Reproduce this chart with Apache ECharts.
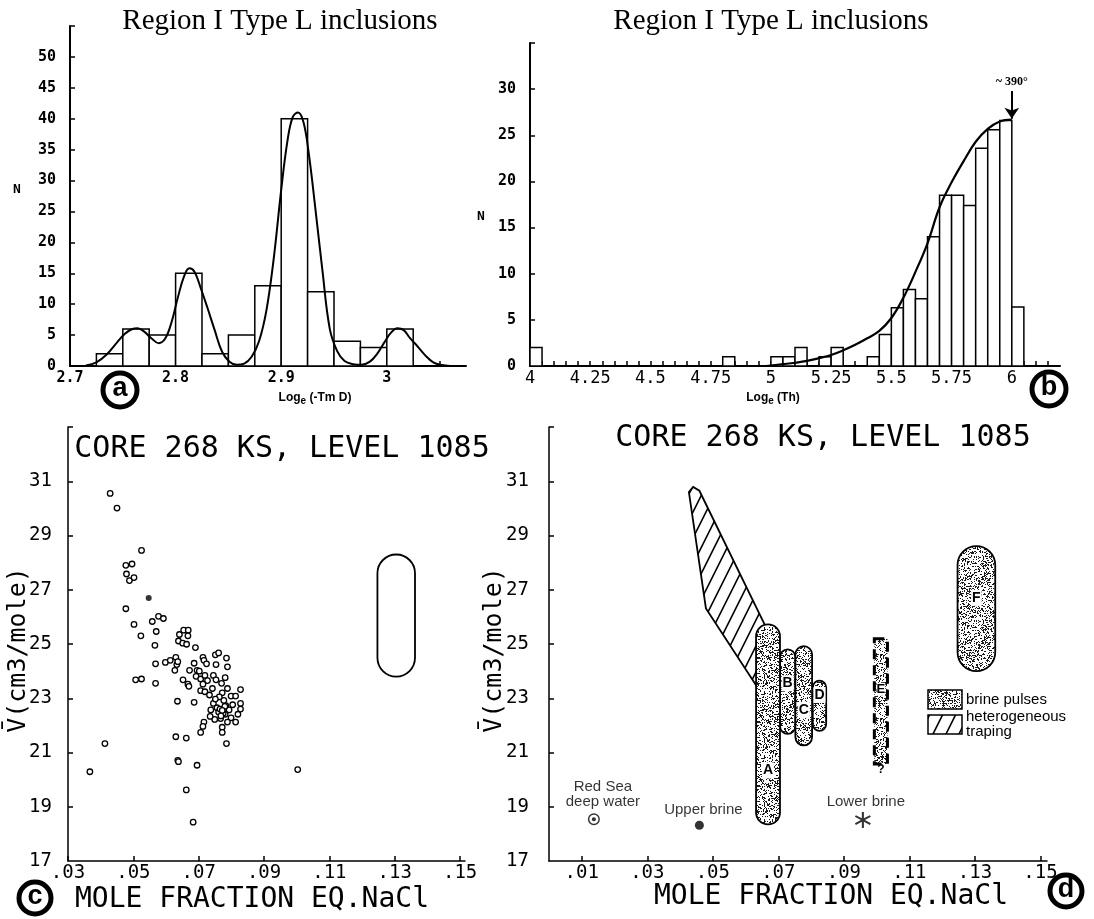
<!DOCTYPE html>
<html>
<head>
<meta charset="utf-8">
<title>Region I Type L inclusions</title>
<script src="https://cdn.jsdelivr.net/npm/echarts@6.0.0/dist/echarts.min.js"></script>
<style>
  html, body { margin: 0; padding: 0; background: #fff; }
  #main { width: 1094px; height: 919px; }
</style>
</head>
<body>
<div id="main"></div>
<script>
// ---------- panel a : Loge(-Tm) histogram ----------
const binEdgesA = [2.725, 2.750, 2.775, 2.800, 2.825, 2.850, 2.875, 2.900, 2.925, 2.950, 2.975, 3.000, 3.025];
const countsA = [2, 6, 5, 15, 2, 5, 13, 40, 12, 4, 3, 6];
const curveAX = [2.715, 2.725, 2.735, 2.745, 2.752, 2.758, 2.764, 2.770, 2.777, 2.784, 2.790, 2.796, 2.802, 2.808, 2.813, 2.818, 2.824, 2.830, 2.837, 2.844, 2.851, 2.858, 2.865, 2.872, 2.879, 2.886, 2.893, 2.900, 2.906, 2.911, 2.916, 2.921, 2.926, 2.932, 2.939, 2.946, 2.953, 2.960, 2.968, 2.976, 2.984, 2.991, 2.998, 3.004, 3.010, 3.016, 3.022, 3.029, 3.036, 3.044, 3.052, 3.060];
const curveAY = [0.1, 0.6, 1.9, 3.9, 5.2, 5.9, 6.1, 5.6, 4.5, 3.7, 4.4, 7.0, 11.0, 14.5, 15.8, 15.2, 12.5, 9.5, 5.8, 2.3, 0.7, 0.2, 0.4, 1.5, 4.0, 9.0, 17.5, 28.5, 36.5, 40.3, 41.0, 39.5, 34.5, 26.0, 15.5, 6.0, 2.4, 0.8, 0.3, 0.2, 0.7, 2.0, 3.9, 5.4, 6.1, 5.8, 4.5, 3.2, 1.8, 0.6, 0.15, 0.0];
const xLabelsA = [2.7, 2.8, 2.9, 3.0];
const xTicksA = [2.8, 2.9, 3.0, 3.05];
const yLabelsA = [0, 5, 10, 15, 20, 25, 30, 35, 40, 45, 50];
const yTicksA = [5, 10, 15, 20, 25, 30, 35, 40, 45, 50, 55];

// ---------- panel b : Loge(Th) histogram ----------
const binWidthB = 0.05;
const binStartB = [4.00, 4.80, 5.00, 5.05, 5.10, 5.20, 5.25, 5.40, 5.45, 5.50, 5.55, 5.60, 5.65, 5.70, 5.75, 5.80, 5.85, 5.90, 5.95, 6.00];
const countsB = [2, 1, 1, 1, 2, 1, 2, 1, 3.4, 6.3, 8.3, 7.3, 14, 18.5, 18.5, 17.4, 23.6, 25.6, 26.6, 6.4];
const curveBX = [4.98, 5.05, 5.10, 5.15, 5.20, 5.25, 5.30, 5.35, 5.40, 5.45, 5.50, 5.55, 5.60, 5.65, 5.70, 5.75, 5.80, 5.85, 5.90, 5.95, 6.00];
const curveBY = [0.0, 0.2, 0.35, 0.55, 0.85, 1.2, 1.7, 2.3, 3.0, 3.8, 5.2, 7.4, 10.2, 13.3, 17.2, 19.9, 22.2, 24.3, 25.7, 26.5, 26.7];
const xLabelsB = [4, 4.25, 4.5, 4.75, 5, 5.25, 5.5, 5.75, 6];
const xTicksB = [4.05, 4.1, 4.15, 4.2, 4.25, 4.3, 4.35, 4.4, 4.45, 4.5, 4.55, 4.6, 4.65, 4.7, 4.75, 4.8, 4.85, 4.9, 4.95, 5, 5.05, 5.1, 5.15, 5.2, 5.25, 5.3, 5.35, 5.4, 5.45, 5.5, 5.55, 5.6, 5.65, 5.7, 5.75, 5.8, 5.85, 5.9, 5.95, 6, 6.05, 6.1, 6.15];
const yLabelsB = [0, 5, 10, 15, 20, 25, 30];
const yTicksB = [5, 10, 15, 20, 25, 30, 35];
const arrowB = { x: 6.0, from: 29.8, to: 26.8, text: '~ 390°' };

// ---------- panel c : V vs mole fraction scatter ----------
const scatterX = [0.0429, 0.0450, 0.0525, 0.0477, 0.0496, 0.0479, 0.0488, 0.0502, 0.0477, 0.0502, 0.0558, 0.0577, 0.0592, 0.0570, 0.0523, 0.0566, 0.0641, 0.0654, 0.0668, 0.0667, 0.0638, 0.0651, 0.0663, 0.0690, 0.0568, 0.0598, 0.0613, 0.0630, 0.0633, 0.0636, 0.0627, 0.0507, 0.0525, 0.0568, 0.0652, 0.0667, 0.0670, 0.0672, 0.0686, 0.0713, 0.0716, 0.0724, 0.0751, 0.0761, 0.0785, 0.0788, 0.0753, 0.0695, 0.0702, 0.0692, 0.0706, 0.0719, 0.0727, 0.0745, 0.0753, 0.0770, 0.0781, 0.0713, 0.0706, 0.0719, 0.0733, 0.0742, 0.0772, 0.0788, 0.0799, 0.0828, 0.0813, 0.0828, 0.0828, 0.0820, 0.0813, 0.0799, 0.0788, 0.0772, 0.0772, 0.0749, 0.0735, 0.0716, 0.0713, 0.0706, 0.0686, 0.0635, 0.0745, 0.0756, 0.0761, 0.0783, 0.0793, 0.0781, 0.0767, 0.0777, 0.0763, 0.0751, 0.0737, 0.0804, 0.0630, 0.0662, 0.0785, 0.0413, 0.0367, 0.0636, 0.0638, 0.0695, 0.1003, 0.0662, 0.0683, 0.0765, 0.0775, 0.0780, 0.0768, 0.0772];
const scatterY = [30.55, 30.01, 28.45, 27.90, 27.95, 27.58, 27.34, 27.45, 26.30, 25.72, 25.83, 26.02, 25.94, 25.46, 25.30, 24.95, 25.35, 25.51, 25.51, 25.30, 25.11, 25.03, 24.99, 24.87, 24.27, 24.32, 24.40, 24.51, 24.24, 24.35, 24.03, 23.68, 23.71, 23.55, 23.68, 23.52, 23.44, 24.03, 24.29, 24.51, 24.40, 24.27, 24.60, 24.67, 24.48, 24.16, 24.24, 24.03, 24.00, 23.81, 23.71, 23.84, 23.65, 23.84, 23.68, 23.55, 23.76, 23.52, 23.28, 23.24, 23.12, 23.36, 23.20, 23.36, 23.08, 23.32, 23.08, 22.81, 22.60, 22.41, 22.12, 22.28, 22.12, 21.93, 21.74, 22.22, 22.33, 22.12, 21.96, 21.74, 22.85, 22.89, 22.81, 22.65, 22.49, 22.73, 22.57, 22.41, 22.25, 22.92, 23.05, 22.97, 22.57, 22.76, 21.58, 21.53, 21.33, 21.33, 20.29, 20.71, 20.66, 20.53, 20.37, 19.62, 18.43, 22.60, 22.45, 22.70, 22.35, 22.55];
const filledPointC = [0.0547, 26.70];
const capsuleCX = [0.1247, 0.1362];
const capsuleCY = [23.8, 28.3];
const xLabelsC = [0.03, 0.05, 0.07, 0.09, 0.11, 0.13, 0.15];
const xLabelsD = [0.01, 0.03, 0.05, 0.07, 0.09, 0.11, 0.13, 0.15];
const yLabelsCD = [17, 19, 21, 23, 25, 27, 29, 31];
const yTicksCD = [19, 21, 23, 25, 27, 29, 31, 33];

// ---------- panel d : interpretation ----------
const pulseNames = ['D', 'B', 'C', 'A', 'F'];
const pulseX0 = [0.0805, 0.0705, 0.0752, 0.0632, 0.1247];
const pulseX1 = [0.0846, 0.0752, 0.0803, 0.0705, 0.1362];
const pulseYlo = [21.80, 21.69, 21.26, 18.35, 24.00];
const pulseYhi = [23.65, 24.80, 24.92, 25.72, 28.61];
const pulseLabelY = [23.12, 23.55, 22.57, 20.34, 26.70];
const boxE = { x0: 0.0993, x1: 0.1033, ylo: 20.58, yhi: 25.19, labelY: 23.33, qY: 20.37 };
const hatchX = [0.0427, 0.0440, 0.0459, 0.0658, 0.0634, 0.0479];
const hatchY = [30.60, 30.79, 30.65, 25.72, 23.44, 26.31];
const refNames = ['Red Sea\ndeep water', 'Upper brine', 'Lower brine'];
const refX = [0.0137, 0.0459, 0.0958];
const refY = [18.54, 18.32, 18.51];

const MONO = "'DejaVu Sans Mono', monospace";
const SERIF = "'Liberation Serif', serif";
const SANS = "'Liberation Sans', Arial, sans-serif";

// 点状填充 (brine pulses) - 固定的哈希点阵纹理
function makeStipple() {
  const s = 64;
  const c = document.createElement('canvas');
  c.width = s; c.height = s;
  const g = c.getContext('2d');
  g.fillStyle = '#fff';
  g.fillRect(0, 0, s, s);
  g.fillStyle = '#1a1a1a';
  for (let i = 0; i < 1500; i++) {
    const h = Math.imul(i + 1, 2654435761) >>> 0;
    const h2 = Math.imul(h ^ (h >>> 15), 2246822519) >>> 0;
    g.fillRect(h2 % s, (h2 >>> 12) % s, 1, 1);
  }
  return c;
}
// 斜线填充 (heterogeneous traping)
function makeHatch() {
  const w = 13, h = 26;
  const c = document.createElement('canvas');
  c.width = w; c.height = h;
  const g = c.getContext('2d');
  g.fillStyle = '#fff';
  g.fillRect(0, 0, w, h);
  g.strokeStyle = '#000';
  g.lineWidth = 1.6;
  g.beginPath();
  g.moveTo(0, h); g.lineTo(w, 0);
  g.moveTo(-2, 4); g.lineTo(2, -4);
  g.moveTo(w - 2, h + 4); g.lineTo(w + 2, h - 4);
  g.stroke();
  return c;
}
const stipple = { image: makeStipple(), repeat: 'repeat' };
const hatch = { image: makeHatch(), repeat: 'repeat' };

const chart = echarts.init(document.getElementById('main'));

function histItem(params, api) {
  const p0 = api.coord([api.value(0), 0]);
  const p1 = api.coord([api.value(1), api.value(2)]);
  return {
    type: 'rect',
    shape: { x: p0[0], y: p1[1], width: p1[0] - p0[0], height: p0[1] - p1[1] },
    style: { fill: '#fff', stroke: '#000', lineWidth: 1.5 }
  };
}

function valueAxis(grid, min, max, labels, ticks, fmt, font, margin, lineWidth) {
  return {
    gridIndex: grid, type: 'value', min: min, max: max,
    axisLine: { show: true, onZero: false, lineStyle: { color: '#000', width: lineWidth } },
    axisTick: { show: true, inside: true, length: 5, customValues: ticks, lineStyle: { color: '#000', width: 1.5 } },
    axisLabel: { customValues: labels, formatter: fmt, color: '#000', fontFamily: MONO,
      fontSize: font.size, fontWeight: font.weight, margin: margin },
    splitLine: { show: false }
  };
}
const fmtPlain = v => String(+(+v).toFixed(2));
const fmtFrac = v => (+v).toFixed(2).replace(/^0/, '');

const histDataA = countsA.map((c, i) => [binEdgesA[i], binEdgesA[i + 1], c]);
const histDataB = countsB.map((c, i) => [binStartB[i], +(binStartB[i] + binWidthB).toFixed(2), c]);
const scatterData = scatterX.map((x, i) => [x, scatterY[i]]);
const pulseData = pulseNames.map((n, i) => [pulseX0[i], pulseX1[i], pulseYlo[i], pulseYhi[i], pulseLabelY[i]]);

const ringDot = 'path://M10 0A10 10 0 1 1 9.99 0ZM10 2.4A7.6 7.6 0 1 0 10.01 2.4ZM10 6.5A3.5 3.5 0 1 1 9.99 6.5Z';
const asterisk = 'path://M8.8 0h2.4v7.9l6.9-4 1.2 2.1L12.4 10l6.9 4-1.2 2.1-6.9-4V20H8.8v-7.9l-6.9 4-1.2-2.1L7.6 10 0.7 6l1.2-2.1 6.9 4z';
const refSymbols = [ringDot, 'circle', asterisk];
const refSizes = [12, 9, 16];
const refOffsets = [[9, 0], [4, 0], [3, 0]];

function capsuleItem(fill) {
  return function (params, api) {
    const a = api.coord([api.value(0), api.value(3)]);
    const b = api.coord([api.value(1), api.value(2)]);
    const w = b[0] - a[0];
    const children = [{
      type: 'rect',
      shape: { x: a[0], y: a[1], width: w, height: b[1] - a[1], r: w / 2 },
      style: { fill: fill, stroke: '#000', lineWidth: 1.8 }
    }];
    if (params.seriesName === 'pulses') {
      const c = api.coord([(api.value(0) + api.value(1)) / 2, api.value(4)]);
      children.push({
        type: 'text', x: c[0], y: c[1],
        style: { text: pulseNames[params.dataIndex], font: 'bold 14px ' + SANS, fill: '#000',
          textAlign: 'center', textVerticalAlign: 'middle', backgroundColor: '#fff', padding: [1, 1] }
      });
    }
    return { type: 'group', children: children };
  };
}

function txt(x, y, text, font, extra) {
  return Object.assign({ type: 'text', x: x, y: y, z: 100,
    style: { text: text, font: font, fill: '#000', textAlign: 'center', textVerticalAlign: 'middle' } }, extra || {});
}
function circled(x, y, r, letter) {
  return { type: 'group', z: 100, children: [
    { type: 'circle', shape: { cx: x, cy: y, r: r }, style: { fill: '#fff', stroke: '#000', lineWidth: 5 } },
    { type: 'text', x: x, y: y - 1, style: { text: letter, font: 'bold 27px ' + SANS, fill: '#000', textAlign: 'center', textVerticalAlign: 'middle' } }
  ] };
}
function logName(x, y, rest) {
  return { type: 'text', x: x, y: y, z: 100, style: {
    text: '{a|Log}{s|e}{a| ' + rest + '}', textAlign: 'center', textVerticalAlign: 'middle',
    rich: { a: { font: 'bold 12px ' + SANS, fill: '#000' }, s: { font: 'bold 10px ' + SANS, fill: '#000', padding: [6, 0, 0, 0] } }
  } };
}

const option = {
  animation: false,
  backgroundColor: '#fff',
  grid: [
    { left: 70, top: 26, width: 396, height: 340 },
    { left: 530, top: 43, width: 530, height: 323 },
    { left: 68, top: 427, width: 397, height: 434 },
    { left: 549, top: 427, width: 498, height: 434 }
  ],
  xAxis: [
    valueAxis(0, 2.7, 3.075, xLabelsA, xTicksA, fmtPlain, { size: 15, weight: 'bold' }, 5, 2),
    valueAxis(1, 4, 6.2, xLabelsB, xTicksB, fmtPlain, { size: 17, weight: 'normal' }, 4, 2),
    valueAxis(2, 0.03, 0.1515, xLabelsC, xLabelsC, fmtFrac, { size: 19, weight: 'normal' }, 3, 1.5),
    valueAxis(3, 0, 0.152, xLabelsD, xLabelsD, fmtFrac, { size: 19, weight: 'normal' }, 3, 1.5)
  ],
  yAxis: [
    valueAxis(0, 0, 55, yLabelsA, yTicksA, fmtPlain, { size: 15, weight: 'bold' }, 14, 2),
    valueAxis(1, 0, 35, yLabelsB, yTicksB, fmtPlain, { size: 15, weight: 'bold' }, 14, 2),
    valueAxis(2, 17, 33, yLabelsCD, yTicksCD, fmtPlain, { size: 19, weight: 'normal' }, 16, 1.5),
    valueAxis(3, 17, 33, yLabelsCD, yTicksCD, fmtPlain, { size: 19, weight: 'normal' }, 20, 1.5)
  ],
  series: [
    // panel a
    { type: 'custom', name: 'histA', xAxisIndex: 0, yAxisIndex: 0, renderItem: histItem, data: histDataA, silent: true },
    { type: 'line', name: 'fitA', xAxisIndex: 0, yAxisIndex: 0, smooth: 0.4, showSymbol: false, symbol: 'none',
      lineStyle: { color: '#000', width: 2 }, data: curveAX.map((x, i) => [x, curveAY[i]]), silent: true, z: 5 },
    // panel b
    { type: 'custom', name: 'histB', xAxisIndex: 1, yAxisIndex: 1, renderItem: histItem, data: histDataB, silent: true },
    { type: 'line', name: 'fitB', xAxisIndex: 1, yAxisIndex: 1, smooth: 0.4, showSymbol: false, symbol: 'none',
      lineStyle: { color: '#000', width: 2.2 }, data: curveBX.map((x, i) => [x, curveBY[i]]), silent: true, z: 5,
      markLine: {
        silent: true, symbol: ['none', 'arrow'], symbolSize: 11,
        lineStyle: { color: '#000', width: 2, type: 'solid' },
        label: { show: true, position: 'start', formatter: arrowB.text, color: '#000', fontFamily: SERIF, fontWeight: 'bold', fontSize: 12, distance: 3 },
        data: [[{ coord: [arrowB.x, arrowB.from] }, { coord: [arrowB.x, arrowB.to] }]]
      } },
    // panel c
    { type: 'scatter', name: 'inclusions', xAxisIndex: 2, yAxisIndex: 2, symbol: 'circle', symbolSize: 5.5,
      itemStyle: { color: '#fff', borderColor: '#000', borderWidth: 1.3, opacity: 1 }, data: scatterData, silent: true },
    { type: 'scatter', name: 'filled', xAxisIndex: 2, yAxisIndex: 2, symbol: 'circle', symbolSize: 6,
      itemStyle: { color: '#000' }, data: [filledPointC], silent: true },
    { type: 'custom', name: 'rangeC', xAxisIndex: 2, yAxisIndex: 2, renderItem: capsuleItem('#fff'), silent: true,
      data: [[capsuleCX[0], capsuleCX[1], capsuleCY[0], capsuleCY[1]]] },
    // panel d
    { type: 'custom', name: 'hatch', xAxisIndex: 3, yAxisIndex: 3, silent: true, data: [[hatchX[0], hatchY[0]]],
      renderItem: function (params, api) {
        const pts = hatchX.map((x, i) => api.coord([x, hatchY[i]]));
        return { type: 'polygon', shape: { points: pts, smooth: 0 }, style: { fill: hatch, stroke: '#000', lineWidth: 1.8 } };
      } },
    { type: 'custom', name: 'pulses', xAxisIndex: 3, yAxisIndex: 3, renderItem: capsuleItem(stipple), data: pulseData, silent: true },
    { type: 'custom', name: 'E', xAxisIndex: 3, yAxisIndex: 3, silent: true,
      data: [[boxE.x0, boxE.x1, boxE.ylo, boxE.yhi]],
      renderItem: function (params, api) {
        const a = api.coord([boxE.x0, boxE.yhi]);
        const b = api.coord([boxE.x1, boxE.ylo]);
        const cx = (a[0] + b[0]) / 2;
        return { type: 'group', children: [
          { type: 'rect', shape: { x: a[0], y: a[1], width: b[0] - a[0], height: b[1] - a[1] },
            style: { fill: stipple, stroke: '#000', lineWidth: 3, lineDash: [10, 6] } },
          { type: 'text', x: cx, y: api.coord([0, boxE.labelY])[1],
            style: { text: 'E', font: 'bold 13px ' + SANS, fill: '#000', textAlign: 'center', textVerticalAlign: 'middle', backgroundColor: '#fff' } },
          { type: 'text', x: cx, y: api.coord([0, boxE.qY])[1],
            style: { text: '?', font: 'bold 12px ' + SANS, fill: '#000', textAlign: 'center', textVerticalAlign: 'middle' } }
        ] };
      } },
    { type: 'scatter', name: 'reference waters', xAxisIndex: 3, yAxisIndex: 3, silent: true,
      itemStyle: { color: '#000' },
      label: { show: true, position: 'top', color: '#000', fontFamily: SANS, fontSize: 15, lineHeight: 15,
        formatter: p => refNames[p.dataIndex] },
      data: refX.map((x, i) => ({ value: [x, refY[i]], symbol: refSymbols[i], symbolSize: refSizes[i],
        label: { offset: refOffsets[i], distance: i === 0 ? 4 : 3 } })) }
  ],
  graphic: [
    txt(280, 21, 'Region I Type L inclusions', '29px ' + SERIF),
    txt(771, 21, 'Region I Type L inclusions', '29px ' + SERIF),
    txt(17, 190, 'N', 'bold 13px ' + MONO),
    txt(481, 217, 'N', 'bold 13px ' + MONO),
    logName(315, 398, '(-Tm D)'),
    logName(773, 398, '(Th)'),
    circled(120, 390, 17, 'a'),
    circled(1049, 389, 17, 'b'),
    circled(35, 898, 16, 'c'),
    circled(1066, 891, 16, 'd'),
    txt(282, 449, 'CORE 268 KS, LEVEL 1085', '30px ' + MONO),
    txt(823, 438, 'CORE 268 KS, LEVEL 1085', '30px ' + MONO),
    txt(18, 650, 'V\u0304(cm3/mole)', '25px ' + MONO, { rotation: Math.PI / 2 }),
    txt(494, 650, 'V\u0304(cm3/mole)', '25px ' + MONO, { rotation: Math.PI / 2 }),
    txt(252, 900, 'MOLE FRACTION EQ.NaCl', '28px ' + MONO),
    txt(831, 897, 'MOLE FRACTION EQ.NaCl', '28px ' + MONO),
    // legend
    { type: 'rect', z: 100, shape: { x: 928, y: 690, width: 34, height: 19 }, style: { fill: stipple, stroke: '#000', lineWidth: 1.5 } },
    { type: 'rect', z: 100, shape: { x: 928, y: 715, width: 34, height: 19 }, style: { fill: hatch, stroke: '#000', lineWidth: 1.5 } },
    { type: 'text', z: 100, x: 966, y: 700, style: { text: 'brine pulses', font: '15px ' + SANS, fill: '#000', textVerticalAlign: 'middle' } },
    { type: 'text', z: 100, x: 966, y: 717, style: { text: 'heterogeneous', font: '15px ' + SANS, fill: '#000', textVerticalAlign: 'middle' } },
    { type: 'text', z: 100, x: 966, y: 732, style: { text: 'traping', font: '15px ' + SANS, fill: '#000', textVerticalAlign: 'middle' } }
  ]
};

chart.setOption(option);
</script>
</body>
</html>
